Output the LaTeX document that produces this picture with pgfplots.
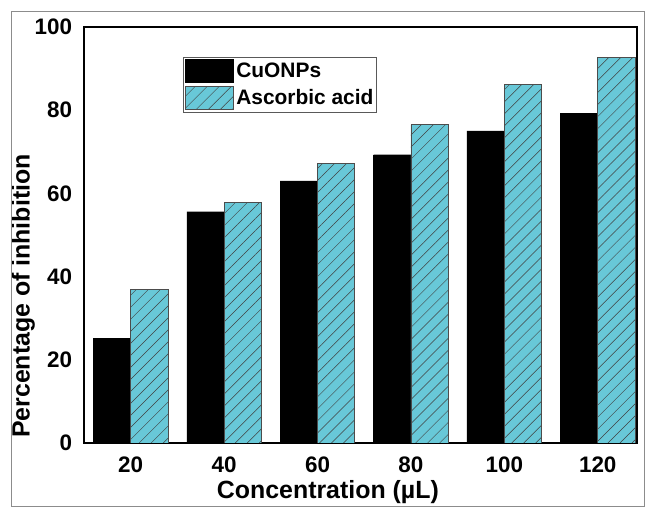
\documentclass[border=0pt]{standalone}
\usepackage{fontspec}
\setmainfont{Liberation Sans}
\usepackage{pgfplots}
\pgfplotsset{compat=1.18}
\usetikzlibrary{patterns.meta}
\definecolor{asc}{RGB}{104,200,216}
\begin{document}
\begin{tikzpicture}
\begin{axis}[
  scale only axis,
  width=553bp, height=416bp,
  ymin=0, ymax=100,
  xmin=-0.5, xmax=5.42,
  ytick={0,20,40,60,80,100},
  xtick={0,1,2,3,4,5},
  xticklabels={20,40,60,80,100,120},
  major tick length=0pt,
  axis line style={line width=1.6bp},
  /pgf/number format/assume math mode=true,
  tick label style={font=\bfseries\fontsize{22.5}{26}\selectfont},
  xticklabel style={yshift=-10.5bp},
  yticklabel style={xshift=-8.5bp},
  xlabel={Concentration (µL)},
  ylabel={Percentage of inhibition},
  label style={font=\bfseries\fontsize{25}{29}\selectfont},
  x label style={at={(axis description cs:0.441,0)}, anchor=north, yshift=-34bp},
  y label style={at={(axis description cs:-0.1374,0.353)}, anchor=north},
  ybar, bar width=0.4,
  legend image code/.code={\draw[#1,line width=0.8bp] (0bp,-11.5bp) rectangle (48bp,11.5bp);},
  legend style={at={(axis description cs:0.179,0.928)}, anchor=north west,
    draw=black!65, line width=1bp, inner xsep=2bp, inner ysep=2bp,
    font=\bfseries\fontsize{21}{24}\selectfont,
    nodes={inner sep=1bp}, row sep=3bp,
    /tikz/every odd column/.append style={column sep=1bp},
    /tikz/every even column/.append style={column sep=6bp}},
  legend cell align=left,
]
\addplot[fill=black, draw=black, bar shift=-0.2] coordinates {
  (0,25.2) (1,55.6) (2,63.0) (3,69.3) (4,75.0) (5,79.3)};
\addplot[fill=asc, draw=black!70, line width=0.8bp, bar shift=0.2,
  postaction={pattern={Lines[angle=45,distance=8.5bp,line width=0.5bp]}, pattern color=black!75}] coordinates {
  (0,37.0) (1,57.8) (2,67.1) (3,76.5) (4,86.1) (5,92.7)};
\legend{CuONPs, Ascorbic acid}
\end{axis}
\pgfresetboundingbox
\path (current axis.south west) ++(-84bp,-67bp) coordinate (bbsw);
\path (current axis.south west) ++(563bp,443bp) coordinate (bbne);
\path (bbsw) rectangle (bbne);
\draw[black!45, line width=0.6bp] ([xshift=11bp,yshift=4bp]bbsw) rectangle ([xshift=-3bp,yshift=-11bp]bbne);
\end{tikzpicture}
\end{document}
